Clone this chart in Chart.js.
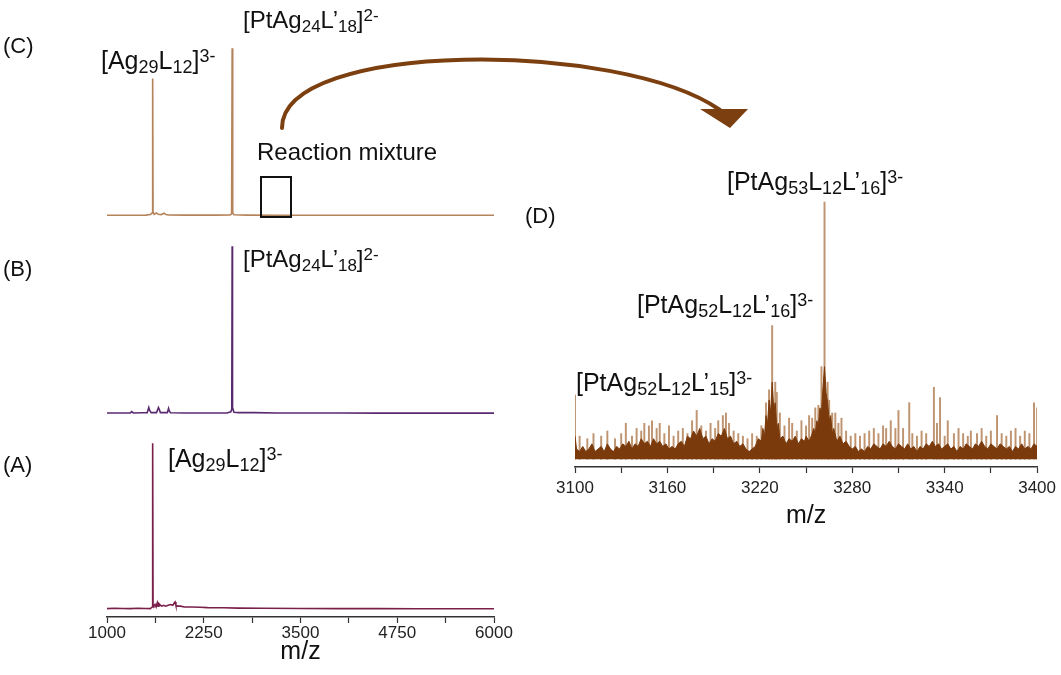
<!DOCTYPE html>
<html>
<head>
<meta charset="utf-8">
<script src="https://cdn.jsdelivr.net/npm/chart.js@4/dist/chart.umd.min.js"></script>
<style>
  body { margin: 0; background: #fff; }
  #wrap { position: relative; width: 1061px; height: 675px; }
  canvas { position: absolute; left: 0; top: 0; }
</style>
</head>
<body>
<div id="wrap">
  <canvas id="chartC" width="1061" height="675"></canvas>
  <canvas id="chartB" width="1061" height="675"></canvas>
  <canvas id="chartA" width="1061" height="675"></canvas>
  <canvas id="chartD" width="1061" height="675"></canvas>
</div>
<script>
// (A) Ag29 spectrum
const mzA = [1000,1100,1200,1300,1400,1500,1560,1585,1590,1595,1605,1620,1635,1650,1660,1670,1690,1710,1730,1760,1790,1820,1850,1870,1880,1890,1910,1950,2000,2100,2200,2300,2500,2700,3000,3500,4000,4500,5000,5500,6000];
const intA = [1.0,1.2,1.1,1.0,1.2,1.1,1.0,2.0,100,3,2.5,3.5,2,4.5,2.5,4,3,2.5,3,2.5,3,3.5,3,4.5,5,3,2.5,2.5,2,2,1.8,1.6,1.5,1.3,1.2,1.1,1,1,0.9,0.9,0.9];

// (B) PtAg24 spectrum
const mzB = [1000,1150,1300,1320,1340,1450,1520,1540,1550,1570,1640,1665,1675,1690,1780,1795,1805,1820,2000,2300,2550,2600,2612,2617,2622,2640,2700,2900,3200,3600,4000,4500,5000,5500,6000];
const intB = [0.8,0.8,0.8,1.6,0.8,0.9,1,4,2.5,1,1,4,3,1,1,3.5,2,0.9,0.8,0.8,0.8,1.5,3,100,4,1.2,1,1,0.8,0.8,0.8,0.7,0.7,0.7,0.7];

// (C) reaction mixture
const mzC = [1000,1300,1500,1560,1585,1590,1595,1610,1640,1660,1700,1740,1760,1800,2000,2400,2590,2610,2617,2624,2640,2800,3200,4000,5000,6000];
const intC = [0.6,0.6,0.7,1,2,82,2.5,1.2,2,1.2,1,1.8,1,0.8,0.7,0.7,0.8,1.5,100,2,0.9,0.7,0.6,0.6,0.6,0.6];

// (D) zoom 3100-3400, dense background envelope
const mzD = [
  3100,3101,3103,3105,3107,3109,3111,3113,3115,3117,
  3119,3121,3123,3125,3127,3129,3131,3133,3135,3137,
  3139,3141,3143,3145,3147,3149,3151,3153,3155,3157,
  3159,3161,3163,3165,3167,3169,3171,3173,3175,3177,
  3179,3181,3183,3185,3187,3189,3191,3193,3195,3197,
  3199,3201,3203,3205,3207,3209,3211,3213,3215,3217,
  3219,3221,3222,3223,3224,3225,3226,3227,3228,3229,
  3230,3231,3232,3233,3235,3237,3239,3241,3243,3245,
  3247,3249,3250,3252,3254,3255,3256,3257,3258,3259,
  3260,3261,3262,3263,3264,3265,3266,3267,3268,3270,
  3272,3274,3276,3278,3280,3282,3284,3286,3288,3290,
  3292,3294,3296,3298,3300,3302,3304,3306,3308,3310,
  3312,3314,3316,3318,3320,3322,3324,3326,3328,3330,
  3332,3334,3336,3338,3340,3342,3344,3346,3348,3350,
  3352,3354,3356,3358,3360,3362,3364,3366,3368,3370,
  3372,3374,3376,3378,3380,3382,3384,3386,3388,3390,
  3392,3394,3396,3398,3400];
const intD = [
  9,4,3,5,3,4,6,3,4,5,
  3,6,4,3,5,4,6,5,7,4,
  6,5,8,6,7,5,8,6,7,5,
  6,4,5,4,6,7,5,9,8,11,
  9,12,8,9,6,8,7,10,9,12,
  8,9,6,7,5,6,4,3,4,5,
  8,7,12,9,17,14,23,18,30,20,
  22,12,14,8,9,6,8,7,9,6,
  8,7,9,7,10,12,10,15,13,20,
  18,28,36,26,22,15,17,10,12,7,
  9,6,7,5,4,5,3,4,3,5,
  4,6,5,4,6,5,7,5,4,6,
  5,4,6,4,5,3,5,4,6,5,
  7,5,6,4,5,6,4,5,3,5,
  4,6,5,4,6,5,7,5,4,6,
  5,4,6,5,4,5,3,5,4,6,
  4,5,4,6,5];

// (D) individual spikes
const mzSpike = [3100,3103,3108,3112,3117,3121,3126,3130,3133,3137,3140,3143,3145,3148,3150,3153,3155,3158,3161,3164,3167,3170,3173,3176,3179,3182,3185,3188,3191,3193,3196,3198,3200,3203,3206,3209,3212,3215,3218,3221,3224,3226,3228,3230,3231,3233,3236,3239,3241,3244,3247,3250,3252,3254,3256,3258,3260,3262,3264,3265,3267,3269,3271,3273,3276,3279,3282,3285,3288,3291,3294,3297,3300,3302,3305,3308,3310,3313,3317,3319,3322,3325,3328,3333,3335,3337,3340,3342,3346,3349,3352,3355,3357,3361,3364,3367,3370,3374,3377,3380,3383,3386,3389,3392,3395,3398,3400];
const intSpike = [25,9,8,10,9,11,8,10,14,9,12,11,14,13,15,12,14,10,13,9,11,12,10,15,19,13,11,14,12,15,17,18,14,11,10,9,8,10,9,13,22,27,52,30,26,18,13,16,14,11,15,13,17,16,20,21,36,100,30,23,18,18,14,16,11,9,10,9,10,11,12,10,13,12,15,12,19,12,22,10,9,11,10,28,14,24,9,15,10,12,10,9,11,10,12,9,11,17,10,9,11,12,9,11,10,22,20];

const ticksLeft = [1000, 2250, 3500, 4750, 6000];
const ticksRight = [3100, 3160, 3220, 3280, 3340, 3400];

Chart.defaults.font.family = '"Liberation Sans", Arial, sans-serif';
Chart.defaults.color = '#222';

function pts(xs, ys) {
  return xs.map((x, i) => ({ x: x, y: ys[i] }));
}

function leftPanel(id, xs, ys, color, top, bottom, showAxis) {
  const axisH = 58;
  return new Chart(document.getElementById(id), {
    type: 'line',
    data: { datasets: [{ data: pts(xs, ys), borderColor: color, borderWidth: 1.6, pointRadius: 0, tension: 0 }] },
    options: {
      responsive: false,
      animation: false,
      events: [],
      layout: { padding: { left: 107, right: 567, top: top, bottom: 675 - bottom - (showAxis ? axisH : 0) } },
      plugins: { legend: { display: false }, tooltip: { enabled: false } },
      scales: {
        x: {
          type: 'linear', min: 1000, max: 6000, display: showAxis,
          afterFit: s => { if (showAxis) s.height = axisH; },
          ticks: {
            stepSize: 625, autoSkip: false, maxRotation: 0, padding: 0,
            font: { size: 17 }, color: '#222',
            callback: v => ticksLeft.includes(v) ? String(v) : ''
          },
          grid: { drawOnChartArea: false, tickLength: 6, color: '#333', tickWidth: 1.2 },
          border: { display: true, color: '#333', width: 1.5 },
          title: { display: true, text: 'm/z', font: { size: 25 }, color: '#111', padding: { top: 0, bottom: 8 } }
        },
        y: { display: false, min: -4, max: 102 }
      }
    }
  });
}

leftPanel('chartC', mzC, intC, '#b5835a', 45, 223, false);
leftPanel('chartB', mzB, intB, '#5a2a70', 243, 421, false);
leftPanel('chartA', mzA, intA, '#7a1f4a', 440, 617, true);

// formula text with sub/superscripts
function formula(ctx, parts, x, y, size) {
  const small = Math.round(size * 0.72);
  ctx.textBaseline = 'alphabetic';
  ctx.textAlign = 'left';
  ctx.fillStyle = '#111';
  for (const [txt, kind] of parts) {
    if (kind === 'sub') {
      ctx.font = small + 'px "Liberation Sans", Arial, sans-serif';
      ctx.fillText(txt, x, y + 4);
    } else if (kind === 'sup') {
      ctx.font = small + 'px "Liberation Sans", Arial, sans-serif';
      ctx.fillText(txt, x, y - 7);
    } else {
      ctx.font = size + 'px "Liberation Sans", Arial, sans-serif';
      ctx.fillText(txt, x, y);
    }
    x += ctx.measureText(txt).width;
  }
}

const decor = {
  id: 'decor',
  afterDraw(chart) {
    const ctx = chart.ctx;
    ctx.save();
    // panel letters
    ctx.font = '22px "Liberation Sans", Arial, sans-serif';
    ctx.fillStyle = '#111';
    ctx.textBaseline = 'middle';
    ctx.fillText('(C)', 3, 47);
    ctx.fillText('(B)', 3, 270);
    ctx.fillText('(A)', 3, 466);
    ctx.fillText('(D)', 525, 217);

    // peak labels
    formula(ctx, [['[Ag', 'n'], ['29', 'sub'], ['L', 'n'], ['12', 'sub'], [']', 'n'], ['3-', 'sup']], 101, 69, 25);
    formula(ctx, [['[PtAg', 'n'], ['24', 'sub'], ['L’', 'n'], ['18', 'sub'], [']', 'n'], ['2-', 'sup']], 243, 28, 24);
    formula(ctx, [['[PtAg', 'n'], ['24', 'sub'], ['L’', 'n'], ['18', 'sub'], [']', 'n'], ['2-', 'sup']], 243, 267, 24);
    formula(ctx, [['[Ag', 'n'], ['29', 'sub'], ['L', 'n'], ['12', 'sub'], [']', 'n'], ['3-', 'sup']], 168, 467, 25);
    formula(ctx, [['[PtAg', 'n'], ['53', 'sub'], ['L', 'n'], ['12', 'sub'], ['L’', 'n'], ['16', 'sub'], [']', 'n'], ['3-', 'sup']], 727, 190, 25);
    formula(ctx, [['[PtAg', 'n'], ['52', 'sub'], ['L', 'n'], ['12', 'sub'], ['L’', 'n'], ['16', 'sub'], [']', 'n'], ['3-', 'sup']], 637, 313, 25);
    formula(ctx, [['[PtAg', 'n'], ['52', 'sub'], ['L', 'n'], ['12', 'sub'], ['L’', 'n'], ['15', 'sub'], [']', 'n'], ['3-', 'sup']], 576, 391, 25);

    // reaction mixture box
    ctx.font = '24px "Liberation Sans", Arial, sans-serif';
    ctx.textBaseline = 'alphabetic';
    ctx.fillText('Reaction mixture', 257, 160);
    ctx.strokeStyle = '#111';
    ctx.lineWidth = 2;
    ctx.strokeRect(261, 177, 30, 40);

    // curved arrow
    ctx.strokeStyle = '#7b3f10';
    ctx.lineWidth = 4;
    ctx.lineCap = 'round';
    ctx.beginPath();
    ctx.moveTo(282, 128);
    ctx.bezierCurveTo(282, 40, 620, 40, 720, 110);
    ctx.stroke();
    ctx.fillStyle = '#7b3f10';
    ctx.beginPath();
    ctx.moveTo(700, 109);
    ctx.lineTo(748, 109);
    ctx.lineTo(730, 128);
    ctx.closePath();
    ctx.fill();
    ctx.restore();
  }
};

new Chart(document.getElementById('chartD'), {
  data: {
    datasets: [
      { type: 'line', data: pts(mzD, intD), borderColor: '#7a3a0c', backgroundColor: '#7a3a0c', borderWidth: 1, pointRadius: 0, tension: 0, fill: 'origin', order: 0 },
      { type: 'bar', data: pts(mzSpike, intSpike), backgroundColor: '#bf9470', barThickness: 1.3, order: 1 }
    ]
  },
  options: {
    responsive: false,
    animation: false,
    events: [],
    layout: { padding: { left: 575, right: 21, top: 197, bottom: 675 - 467 - 64 } },
    plugins: { legend: { display: false }, tooltip: { enabled: false } },
    scales: {
      x: {
        type: 'linear', min: 3100, max: 3400, offset: false,
        afterFit: s => { s.height = 64; },
        ticks: {
          stepSize: 30, autoSkip: false, maxRotation: 0, padding: 5,
          font: { size: 17 }, color: '#222',
          callback: v => ticksRight.includes(v) ? String(v) : ''
        },
        grid: { drawOnChartArea: false, offset: false, tickLength: 6, color: '#333', tickWidth: 1.2 },
        border: { display: true, color: '#333', width: 1.5 },
        title: { display: true, text: 'm/z', font: { size: 25 }, color: '#111', padding: { top: 0, bottom: 0 } }
      },
      y: { display: false, min: -3, max: 102 }
    }
  },
  plugins: [decor]
});
</script>
</body>
</html>
